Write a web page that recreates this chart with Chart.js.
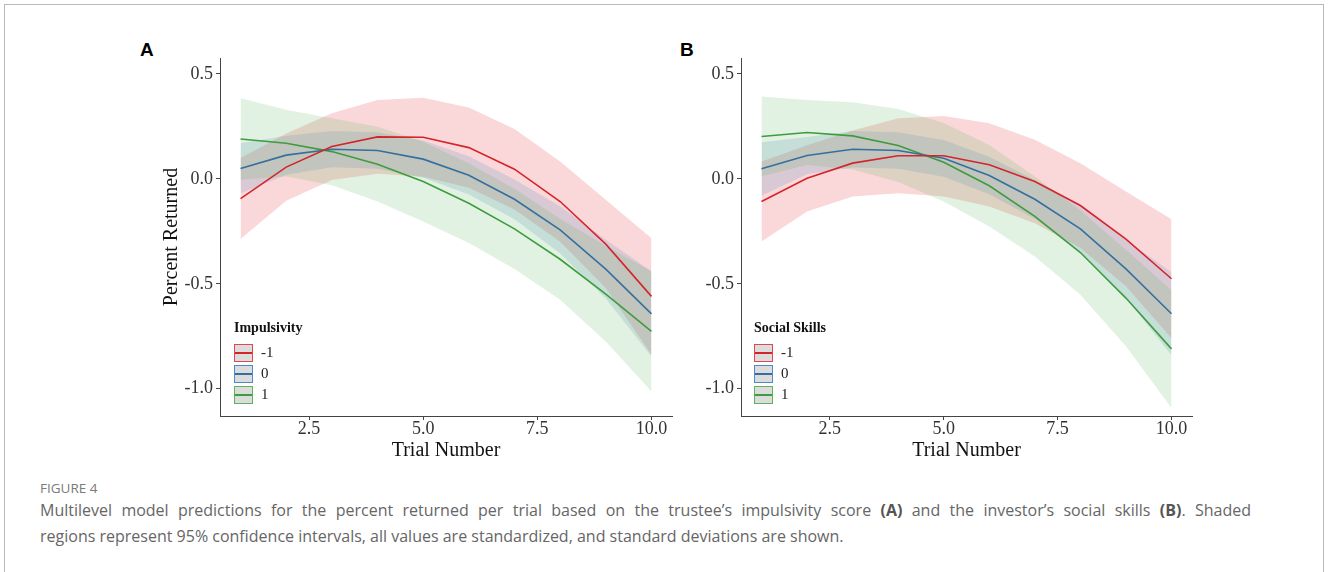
<!DOCTYPE html>
<html>
<head>
<meta charset="utf-8">
<script src="https://cdn.jsdelivr.net/npm/chart.js@4.4.1/dist/chart.umd.min.js"></script>
<style>
  body { margin: 0; width: 1328px; height: 572px; background: #fff; position: relative; overflow: hidden; }
  #frame { position: absolute; left: 4px; top: 4px; width: 1318px; height: 620px; border: 1px solid #b8b8b8; }
  .panel { position: absolute; top: 30px; width: 540px; height: 440px; }
  .tag { position: absolute; top: 39px; font: bold 19px "Liberation Sans", Arial, sans-serif; color: #000; }
  .legend { position: absolute; top: 318px; font-family: "Liberation Serif", serif; color: #222; }
  .legend .title { font-weight: bold; font-size: 14px; height: 24px; line-height: 20px; color: #111; }
  .key { display: flex; align-items: center; height: 21px; font-size: 15px; }
  .swatch { width: 17px; height: 16px; border: 1.5px solid; background: #dcdcdc; position: relative; margin-right: 8px; }
  .swatch i { position: absolute; left: 0; right: 0; top: 7px; height: 2px; }
  #figno { position: absolute; left: 40px; top: 479px; font: 13.5px "Open Sans", Lato, sans-serif; color: #7a7a7a; }
  .cap { position: absolute; left: 40px; width: 1211px; font: 16px "Open Sans", Lato, sans-serif; line-height: 26px; color: #666; white-space: nowrap; }
  .cap.full { text-align: justify; text-align-last: justify; }
  .cap b { color: #555; }
</style>
</head>
<body>
<div id="frame"></div>
<div class="tag" style="left:140px">A</div>
<div class="tag" style="left:680px">B</div>
<div class="panel" style="left:140px"><canvas id="chartA" width="540" height="440"></canvas></div>
<div class="panel" style="left:660px"><canvas id="chartB" width="540" height="440"></canvas></div>
<div class="legend" id="legendA" style="left:234px"></div>
<div class="legend" id="legendB" style="left:754px"></div>
<div id="figno">FIGURE 4</div>
<div class="cap full" style="top:497px">Multilevel model predictions for the percent returned per trial based on the trustee’s impulsivity score <b>(A)</b> and the investor’s social skills <b>(B)</b>. Shaded</div>
<div class="cap" style="top:523px">regions represent 95% confidence intervals, all values are standardized, and standard deviations are shown.</div>
<script>
// trial numbers and group levels
const trials = [1, 2, 3, 4, 5, 6, 7, 8, 9, 10];
const groupLabels = ["-1", "0", "1"];
const xTicks = [2.5, 5.0, 7.5, 10.0];
const yTicks = [-1.0, -0.5, 0.0, 0.5];

// Panel A: impulsivity
const impLowMean  = [-0.094, 0.056, 0.154, 0.200, 0.198, 0.149, 0.046, -0.108, -0.311, -0.560];
const impLowUpper = [0.100, 0.216, 0.313, 0.376, 0.386, 0.340, 0.238, 0.083, -0.100, -0.283];
const impLowLower = [-0.286, -0.104, -0.005, 0.024, 0.010, -0.042, -0.146, -0.300, -0.520, -0.838];
const impMidMean  = [0.049, 0.113, 0.141, 0.135, 0.094, 0.017, -0.097, -0.243, -0.430, -0.643];
const impMidUpper = [0.170, 0.205, 0.228, 0.222, 0.183, 0.108, -0.003, -0.130, -0.290, -0.440];
const impMidLower = [-0.070, 0.020, 0.055, 0.048, 0.005, -0.074, -0.192, -0.356, -0.570, -0.846];
const impHighMean  = [0.190, 0.170, 0.130, 0.070, -0.013, -0.116, -0.238, -0.383, -0.549, -0.727];
const impHighUpper = [0.384, 0.329, 0.289, 0.248, 0.177, 0.074, -0.047, -0.190, -0.320, -0.440];
const impHighLower = [-0.004, 0.011, -0.030, -0.108, -0.203, -0.306, -0.429, -0.576, -0.775, -1.013];

// Panel B: social skills
const socLowMean  = [-0.108, 0.003, 0.075, 0.110, 0.110, 0.067, -0.013, -0.127, -0.287, -0.476];
const socLowUpper = [0.083, 0.160, 0.230, 0.289, 0.300, 0.265, 0.186, 0.075, -0.060, -0.192];
const socLowLower = [-0.298, -0.156, -0.084, -0.068, -0.084, -0.132, -0.212, -0.330, -0.512, -0.760];
const socMidMean  = [0.048, 0.111, 0.141, 0.135, 0.098, 0.016, -0.097, -0.238, -0.429, -0.643];
const socMidUpper = [0.175, 0.200, 0.228, 0.222, 0.185, 0.105, -0.005, -0.125, -0.290, -0.445];
const socMidLower = [-0.080, 0.022, 0.054, 0.048, 0.010, -0.073, -0.190, -0.351, -0.568, -0.840];
const socHighMean  = [0.202, 0.221, 0.205, 0.159, 0.079, -0.033, -0.179, -0.351, -0.568, -0.810];
const socHighUpper = [0.392, 0.376, 0.365, 0.333, 0.266, 0.161, 0.011, -0.151, -0.338, -0.530];
const socHighLower = [0.012, 0.066, 0.045, -0.015, -0.108, -0.227, -0.370, -0.552, -0.798, -1.092];

const lineColors = ["#d4252a", "#33709f", "#3d9c3d"];
const bandColors = ["rgba(228,26,28,0.17)", "rgba(55,126,184,0.17)", "rgba(77,175,74,0.16)"];
const keyColors = ["#e2474a", "#4f8bc9", "#5cb55a"];

const serif = "'Liberation Serif', 'Times New Roman', serif";

function pts(arr) {
  return trials.map((t, i) => ({ x: t, y: arr[i] }));
}

function makePanel(id, means, uppers, lowers, yAxisWidth, yTitle) {
  const datasets = [];
  groupLabels.forEach((g, i) => {
    datasets.push({
      label: g, data: pts(means[i]), borderColor: lineColors[i], borderWidth: 1.6,
      pointRadius: 0, fill: false, tension: 0, order: 0
    });
  });
  // bands: first group drawn first, last group on top (as in ggplot)
  groupLabels.forEach((g, i) => {
    const ord = groupLabels.length - i;
    datasets.push({
      label: g + " upper", data: pts(uppers[i]), borderColor: "transparent", borderWidth: 0,
      pointRadius: 0, backgroundColor: bandColors[i], fill: "+1", order: ord
    });
    datasets.push({
      label: g + " lower", data: pts(lowers[i]), borderColor: "transparent", borderWidth: 0,
      pointRadius: 0, fill: false, order: ord
    });
  });

  new Chart(document.getElementById(id), {
    type: "line",
    data: { datasets: datasets },
    options: {
      responsive: false,
      animation: false,
      layout: { padding: { top: 28, right: 8, left: 0, bottom: 0 } },
      plugins: { legend: { display: false }, tooltip: { enabled: false } },
      scales: {
        x: {
          type: "linear", min: 0.55, max: 10.45,
          afterBuildTicks: (s) => { s.ticks = xTicks.map((v) => ({ value: v })); },
          afterFit: (s) => { s.height = 54; },
          ticks: {
            callback: (v) => v.toFixed(1), autoSkip: false, maxRotation: 0, padding: 0,
            color: "#333", font: { family: serif, size: 18, lineHeight: 1 }
          },
          grid: { drawOnChartArea: false, tickLength: 4, color: "#444" },
          border: { color: "#444", width: 1 },
          title: {
            display: true, text: "Trial Number", color: "#111",
            font: { family: serif, size: 20 }, padding: { top: 0, bottom: 7 }
          }
        },
        y: {
          min: -1.13, max: 0.576,
          afterBuildTicks: (s) => { s.ticks = yTicks.map((v) => ({ value: v })); },
          afterFit: (s) => { s.width = yAxisWidth; },
          ticks: {
            callback: (v) => v.toFixed(1), padding: 3,
            color: "#333", font: { family: serif, size: 18, lineHeight: 1 }
          },
          grid: { drawOnChartArea: false, tickLength: 4, color: "#444" },
          border: { color: "#444", width: 1 },
          title: {
            display: yTitle !== "", text: yTitle, color: "#111",
            font: { family: serif, size: 20 }, padding: { top: 20, bottom: 0 }
          }
        }
      }
    }
  });
}

function makeLegend(id, title) {
  const box = document.getElementById(id);
  let html = '<div class="title">' + title + "</div>";
  groupLabels.forEach((g, i) => {
    html += '<div class="key"><span class="swatch" style="border-color:' + keyColors[i] +
      '"><i style="background:' + lineColors[i] + '"></i></span>' + g + "</div>";
  });
  box.innerHTML = html;
}

makePanel("chartA",
  [impLowMean, impMidMean, impHighMean],
  [impLowUpper, impMidUpper, impHighUpper],
  [impLowLower, impMidLower, impHighLower], 80, "Percent Returned");
makePanel("chartB",
  [socLowMean, socMidMean, socHighMean],
  [socLowUpper, socMidUpper, socHighUpper],
  [socLowLower, socMidLower, socHighLower], 81, "");
makeLegend("legendA", "Impulsivity");
makeLegend("legendB", "Social Skills");
</script>
</body>
</html>
